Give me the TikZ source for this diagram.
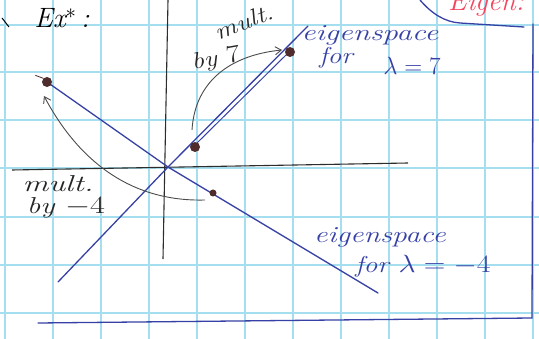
\documentclass[tikz,border=0pt]{standalone}
\usetikzlibrary{arrows.meta}
\definecolor{gridc}{RGB}{165,222,238}
\definecolor{ink}{RGB}{55,65,165}
\definecolor{pencil}{RGB}{75,75,75}
\definecolor{axisc}{RGB}{45,45,45}
\definecolor{dotc}{RGB}{80,45,45}
\definecolor{redink}{RGB}{245,70,95}
\newcommand{\wide}[2]{\scalebox{#1}[1]{#2}}
\begin{document}
\begin{tikzpicture}[x=1pt,y=-1pt,
  gridline/.style={gridc,line width=1.6pt},
  axisline/.style={axisc,line width=1.1pt},
  eigline/.style={ink,line width=1.3pt,line cap=round},
  framel/.style={ink,line width=1.3pt,line cap=round},
  dotnode/.style={circle,fill=dotc,inner sep=0pt,minimum size=10pt},
  smalldot/.style={circle,fill=dotc,inner sep=0pt,minimum size=7pt},
  multarrow/.style={pencil,line width=0.9pt,-{Straight Barb[length=6pt,width=8pt]}},
  hand/.style={font=\fontsize{23}{25}\selectfont\itshape,inner sep=0pt},
  bluetext/.style={hand,text=ink},
  penciltext/.style={hand,text=black!85}]
\useasboundingbox (0,0) rectangle (539,339);
\fill[white] (0,0) rectangle (539,339);
\begin{scope}
\clip (0,0) rectangle (539,339);
\foreach \x in {5,53,...,533} \draw[gridline] (\x,0) -- (\x,339);
\foreach \y in {25,72,120,168,217,265,313} \draw[gridline] (0,\y) -- (539,\y);
% red partial heading
\node[hand,text=redink,anchor=west,font=\fontsize{28}{30}\selectfont\itshape] (redhead) at (448,4) {Eigen:};
\end{scope}
% frame
\coordinate (fa) at (420,0);
\coordinate (fb) at (460,23);
\coordinate (fc) at (524,27);
\coordinate (fd) at (533,24);
\coordinate (fe) at (532,318);
\coordinate (ff) at (38,323);
\draw[framel] (fa) .. controls (432,14) and (445,22) .. (fb) -- (fc);
\draw[framel] (fd) -- (fe) -- (ff);
% axes
\coordinate (O) at (168,167);
\coordinate (xl) at (12,170);
\coordinate (xr) at (408,163);
\coordinate (yt) at (168,0);
\coordinate (yb) at (163,259);
\draw[axisline] (xl) -- (xr);
\draw[axisline] (yt) -- (yb);
% eigenspace lines
\coordinate (s7a) at (58,282);
\coordinate (s7b) at (308,26);
\coordinate (s4a) at (47,82);
\coordinate (s4b) at (378,293);
\draw[eigline] (s7a) -- (O) -- (s7b);
\draw[eigline] (s4a) -- (O) -- (s4b);
\draw[ink,line width=1pt] (197,143) -- (287,54);
% dots
\node[dotnode] (p4) at (47,82) {};
\node[dotnode] (v7) at (195,147) {};
\node[dotnode] (p7) at (290,52) {};
\node[smalldot] (v4) at (213,193) {};
\draw[dotc,line width=0.8pt] (p4.north west) -- ++(-8,-3);
% arrows
\coordinate (a7s) at (192,130);
\coordinate (a7e) at (282,50);
\coordinate (a4s) at (205,200);
\coordinate (a4e) at (44,96);
\draw[multarrow] (a7s) .. controls (195,80) and (232,55) .. (a7e);
\draw[multarrow] (a4s) .. controls (130,202) and (78,160) .. (a4e);
% labels
\node[penciltext,rotate=22] (m7) at (244,22) {\wide{1.2}{mult.}};
\node[penciltext,rotate=10] (b7) at (216,60) {\wide{1.2}{by $7$}};
\node[bluetext] (e7) at (370,35) {\wide{1.35}{eigenspace}};
\node[bluetext] (f7) at (336,58) {\wide{1.2}{for}};
\node[bluetext,font=\fontsize{27}{29}\selectfont\itshape] (l7) at (412,66) {$\lambda=7$};
\node[penciltext] (m4) at (58,184) {\wide{1.4}{mult.}};
\node[penciltext] (b4) at (66,208) {\wide{1.3}{by $-4$}};
\node[bluetext] (e4) at (380,237) {\wide{1.3}{eigenspace}};
\node[bluetext] (f4) at (423,266) {\wide{1.2}{for $\lambda=-4$}};
\node[hand,text=black,font=\fontsize{28}{30}\selectfont\itshape] (ex) at (62,18) {Ex$^*$\,:};
\draw[black,line width=1pt] (2,18) -- (9,27);
\end{tikzpicture}
\end{document}
